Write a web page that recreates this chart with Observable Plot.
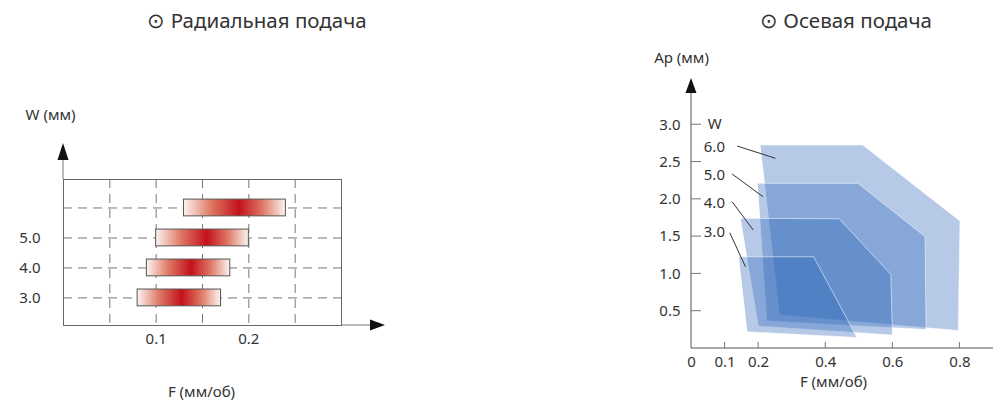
<!DOCTYPE html>
<html><head><meta charset="utf-8">
<script src="https://cdn.jsdelivr.net/npm/d3@7"></script>
<script src="https://cdn.jsdelivr.net/npm/@observablehq/plot@0.6"></script>
<style>
body{margin:0;background:#fff;font-family:"Noto Sans",sans-serif;}
#wrap{position:relative;width:993px;height:404px;overflow:hidden;background:#fff}
.title{position:absolute;top:6px;font-size:20.5px;color:#333;white-space:nowrap;transform:translateX(-50%);line-height:28px}
#left{position:absolute;left:0;top:0}
#right{position:absolute;left:620px;top:0}
svg{overflow:visible}
</style>
</head><body>
<div id="wrap">
  <div class="title" style="left:257px">⊙ Радиальная подача</div>
  <div class="title" style="left:846px">⊙ Осевая подача</div>
  <div id="left"></div>
  <div id="right"></div>
</div>
<script>
// ---- Radial feed (left) ----
const radialW = [3.0, 4.0, 5.0, 6.0];
const radialFmin = [0.08, 0.09, 0.10, 0.13];
const radialFmax = [0.17, 0.18, 0.20, 0.24];
const radialFpeak = [0.128, 0.138, 0.155, 0.19];
const radialYTicks = [3.0, 4.0, 5.0];
const radialXTicks = [0.1, 0.2];
const radialXGrid = [0.05, 0.1, 0.15, 0.2, 0.25];

// ---- Axial feed (right) ----
const axialW = ["6.0", "5.0", "4.0", "3.0"];
const axialF = [
  [0.205, 0.51, 0.80, 0.795, 0.263],
  [0.197, 0.496, 0.696, 0.699, 0.225],
  [0.146, 0.44, 0.594, 0.599, 0.20],
  [0.141, 0.364, 0.493, 0.166]
];
const axialAp = [
  [2.73, 2.73, 1.71, 0.24, 0.45],
  [2.215, 2.215, 1.50, 0.255, 0.37],
  [1.745, 1.74, 0.993, 0.18, 0.30],
  [1.23, 1.23, 0.148, 0.223]
];
const axialXTicks = [0, 0.1, 0.2, 0.4, 0.6, 0.8];
const axialYTicks = [0.5, 1.0, 1.5, 2.0, 2.5, 3.0];
const axialLabelF = [0.0366, 0.0366, 0.0366, 0.0366];
const axialLabelAp = [2.70, 2.32, 1.953, 1.559];
const leaderF1 = [0.136, 0.121, 0.121, 0.114];
const leaderAp1 = [2.715, 2.34, 1.968, 1.552];
const leaderF2 = [0.25, 0.213, 0.184, 0.161];
const leaderAp2 = [2.55, 2.035, 1.588, 1.095];

const baseStyle = {fontFamily: '"Noto Sans", sans-serif', fontSize: "15px", color: "#333", background: "transparent", overflow: "visible"};
const fmt1 = d3.format(".1f");

// gradients for bars
function radialDefs(index, scales, values, dims) {
  const g = d3.create("svg:g");
  const defs = g.append("defs");
  radialW.forEach((w, i) => {
    const p = (radialFpeak[i] - radialFmin[i]) / (radialFmax[i] - radialFmin[i]);
    const lg = defs.append("linearGradient").attr("id", "rg" + i).attr("x1", 0).attr("x2", 1).attr("y1", 0).attr("y2", 0);
    lg.append("stop").attr("offset", 0).attr("stop-color", "#fdf4f1");
    lg.append("stop").attr("offset", p * 0.5).attr("stop-color", "#de7763");
    lg.append("stop").attr("offset", p).attr("stop-color", "#c3111b");
    lg.append("stop").attr("offset", p + (1 - p) * 0.5).attr("stop-color", "#de7763");
    lg.append("stop").attr("offset", 1).attr("stop-color", "#fdf4f1");
  });
  return g.node();
}

function radialArrows(index, scales, values, dims) {
  const g = d3.create("svg:g");
  const x0 = dims.marginLeft, yT = dims.marginTop;
  const yB = dims.height - dims.marginBottom, xR = dims.width - dims.marginRight;
  g.append("line").attr("x1", x0).attr("x2", x0).attr("y1", yT).attr("y2", yT - 19).attr("stroke", "#777");
  g.append("path").attr("d", `M${x0},${yT - 36}L${x0 - 5.5},${yT - 19}L${x0 + 5.5},${yT - 19}Z`).attr("fill", "#111");
  g.append("line").attr("x1", xR).attr("x2", xR + 29).attr("y1", yB).attr("y2", yB).attr("stroke", "#777");
  g.append("path").attr("d", `M${xR + 44},${yB}L${xR + 29},${yB - 5.5}L${xR + 29},${yB + 5.5}Z`).attr("fill", "#111");
  return g.node();
}

const radialData = radialW.map((w, i) => ({w, f1: radialFmin[i], f2: radialFmax[i]}));
const barMarks = radialData.map((d, i) => Plot.rect([d], {
  x1: "f1", x2: "f2", y1: r => r.w - 0.28, y2: r => r.w + 0.28,
  fill: `url(#rg${i})`, stroke: "#555", strokeWidth: 1
}));

const left = Plot.plot({
  width: 400, height: 404,
  marginLeft: 63, marginRight: 59, marginTop: 179, marginBottom: 79,
  x: {domain: [0, 0.3]},
  y: {domain: [2.08, 6.95]},
  style: baseStyle,
  marks: [
    radialDefs,
    Plot.ruleX(radialXGrid, {stroke: "#777", strokeDasharray: "9,6"}),
    Plot.ruleY(radialW, {stroke: "#777", strokeDasharray: "9,6"}),
    ...barMarks,
    Plot.frame({stroke: "#666"}),
    Plot.axisX(radialXTicks, {tickSize: 0, tickPadding: 8, label: null, tickFormat: fmt1, fontSize: 15}),
    Plot.axisY(radialYTicks, {tickSize: 0, tickPadding: 23, label: null, tickFormat: fmt1, fontSize: 15}),
    radialArrows,
    Plot.text(["W (мм)"], {frameAnchor: "top-left", dx: -13, dy: -64, textAnchor: "middle", lineAnchor: "middle", fontSize: 15}),
    Plot.text(["F (мм/об)"], {frameAnchor: "bottom", dx: -1, dy: 67, textAnchor: "middle", lineAnchor: "middle", fontSize: 15})
  ]
});
document.getElementById("left").append(left);

// ---- right ----
const polys = [];
axialW.forEach((w, i) => axialF[i].forEach((f, j) => polys.push({w, f, ap: axialAp[i][j]})));
const labels = axialW.map((w, i) => ({w, f: axialLabelF[i], ap: axialLabelAp[i]}));
const leaders = axialW.map((w, i) => ({x1: leaderF1[i], y1: leaderAp1[i], x2: leaderF2[i], y2: leaderAp2[i]}));

function axialAxes(index, {x, y}, values, dims) {
  const g = d3.create("svg:g");
  const x0 = x(0), y0 = y(0), yT = dims.marginTop;
  g.append("line").attr("x1", x0).attr("x2", dims.width).attr("y1", y0).attr("y2", y0).attr("stroke", "#555");
  g.append("line").attr("x1", x0).attr("x2", x0).attr("y1", y0).attr("y2", yT + 14).attr("stroke", "#555");
  g.append("path").attr("d", `M${x0},${yT}L${x0 - 5.5},${yT + 15}L${x0 + 5.5},${yT + 15}Z`).attr("fill", "#111");
  axialXTicks.filter(t => t > 0).forEach(t => {
    g.append("line").attr("x1", x(t)).attr("x2", x(t)).attr("y1", y0).attr("y2", y0 - 6).attr("stroke", "#777");
  });
  axialYTicks.forEach(t => {
    g.append("line").attr("x1", x0).attr("x2", x0 + 10).attr("y1", y(t)).attr("y2", y(t)).attr("stroke", "#777");
  });
  return g.node();
}

const right = Plot.plot({
  width: 373, height: 404,
  marginLeft: 71, marginRight: 0, marginTop: 78, marginBottom: 56,
  x: {domain: [0, 0.9]},
  y: {domain: [0, 3.62]},
  style: baseStyle,
  marks: [
    Plot.line(polys, {x: "f", y: "ap", z: "w", curve: "linear-closed",
      fill: "rgb(40,100,185)", fillOpacity: 0.34, stroke: "#fff", strokeOpacity: 0.55, strokeWidth: 1}),
    axialAxes,
    Plot.axisX(axialXTicks, {tickSize: 0, tickPadding: 8, label: null, tickFormat: d => d === 0 ? "0" : fmt1(d), fontSize: 15}),
    Plot.axisY(axialYTicks, {tickSize: 0, tickPadding: 11, label: null, tickFormat: fmt1, fontSize: 15}),
    Plot.link(leaders, {x1: "x1", y1: "y1", x2: "x2", y2: "y2", stroke: "#333", strokeWidth: 1}),
    Plot.text(labels, {x: "f", y: "ap", text: "w", textAnchor: "start", fill: "#333", fontSize: 15}),
    Plot.text(["W"], {x: 0.0485, y: 3.01, textAnchor: "start", fill: "#333", fontSize: 15}),
    Plot.text(["Ap (мм)"], {frameAnchor: "top-left", dx: -10, dy: -20, textAnchor: "middle", lineAnchor: "middle", fontSize: 15}),
    Plot.text(["F (мм/об)"], {frameAnchor: "bottom", dx: -9, dy: 34, textAnchor: "middle", lineAnchor: "middle", fontSize: 15})
  ]
});
document.getElementById("right").append(right);
</script>
</body></html>
